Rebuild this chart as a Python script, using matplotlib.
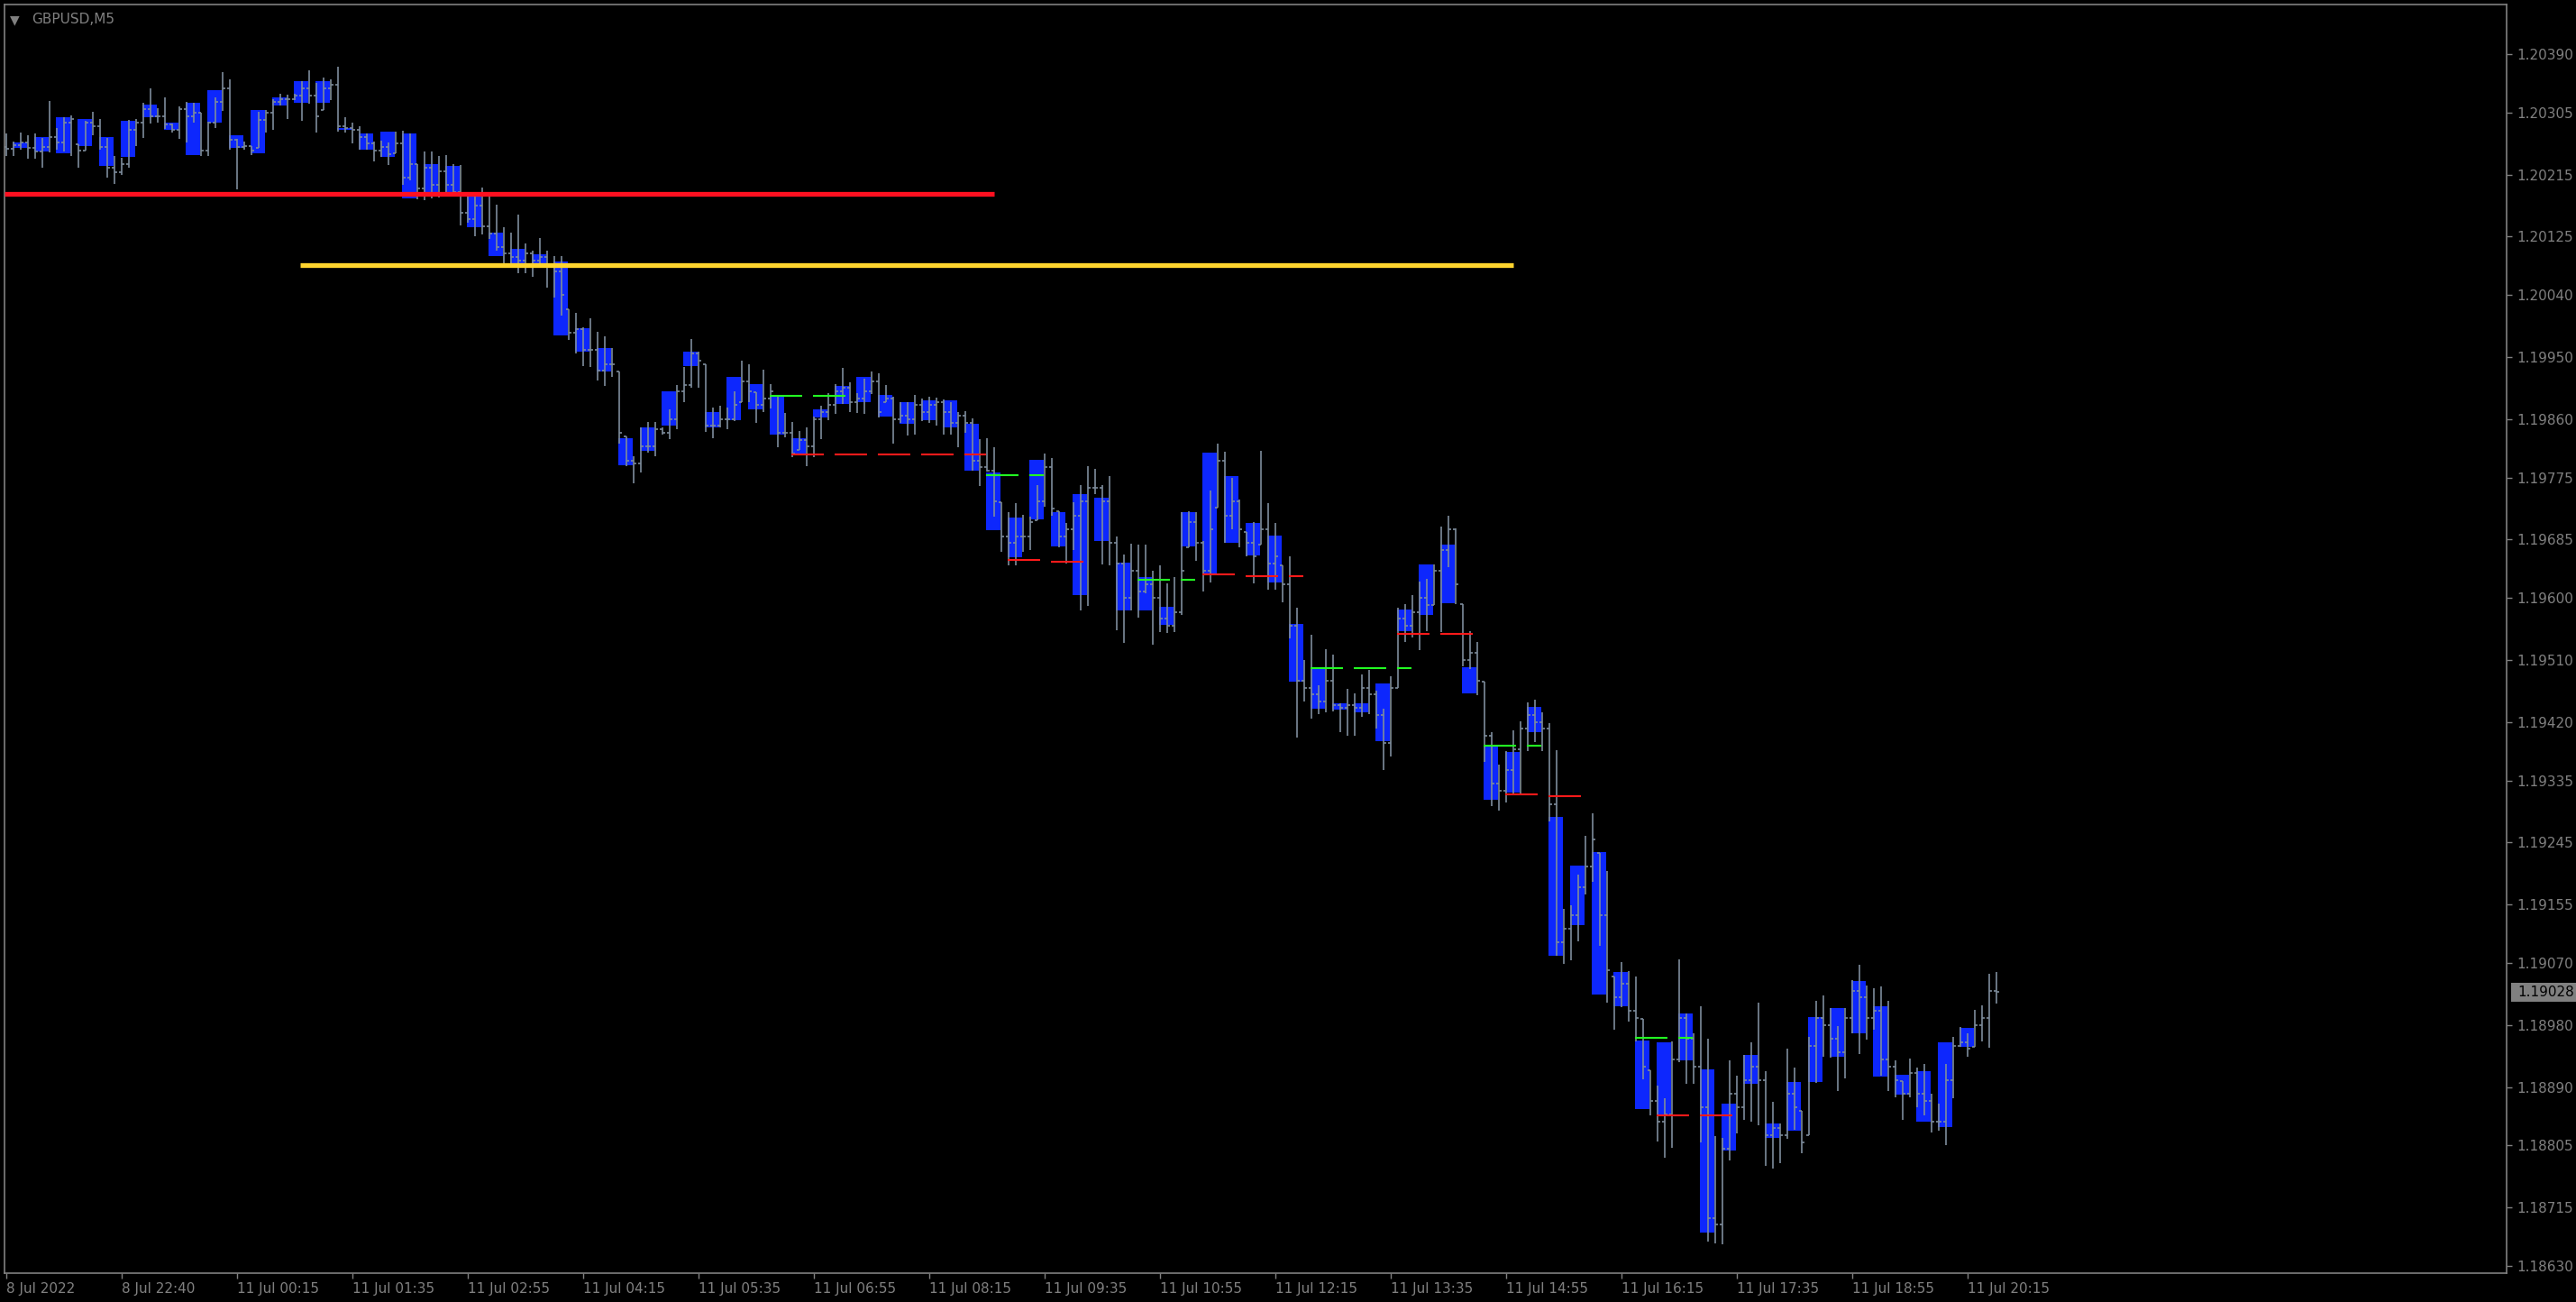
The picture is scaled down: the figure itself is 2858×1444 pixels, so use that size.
import numpy as np
import matplotlib
matplotlib.use("Agg")
import matplotlib.pyplot as plt
from matplotlib.collections import LineCollection
from matplotlib.patches import Rectangle

plt.rcParams["font.family"] = ["DejaVu Sans"]
plt.rcParams["lines.scale_dashes"] = False

# GBPUSD M5 bars, bar 0 = 8 Jul 21:20
first_open = 1.20255
highs = [
    1.20275, 1.20263, 1.20276, 1.20272, 1.20275, 1.20268, 1.20322, 1.20283, 1.20298, 1.20301,
    1.20259, 1.20293, 1.20306, 1.20296, 1.20268, 1.20242, 1.20239, 1.20294, 1.20296, 1.20319,
    1.20340, 1.20311, 1.20327, 1.20289, 1.20314, 1.20321, 1.20319, 1.20305, 1.20292, 1.20327,
    1.20364, 1.20353, 1.20267, 1.20263, 1.20256, 1.20306, 1.20309, 1.20325, 1.20332, 1.20331,
    1.20332, 1.20351, 1.20366, 1.20348, 1.20356, 1.20353, 1.20372, 1.20298, 1.20290, 1.20285,
    1.20275, 1.20263, 1.20264, 1.20262, 1.20277, 1.20279, 1.20275, 1.20230, 1.20249, 1.20249,
    1.20242, 1.20243, 1.20230, 1.20229, 1.20184, 1.20183, 1.20196, 1.20183, 1.20171, 1.20139,
    1.20131, 1.20157, 1.20115, 1.20105, 1.20123, 1.20105, 1.20097, 1.20097, 1.20019, 1.20014,
    1.19993, 1.20006, 1.19987, 1.19980, 1.19963, 1.19929, 1.19835, 1.19806, 1.19848, 1.19856,
    1.19856, 1.19848, 1.19874, 1.19910, 1.19936, 1.19976, 1.19958, 1.19940, 1.19877, 1.19879,
    1.19877, 1.19900, 1.19945, 1.19940, 1.19899, 1.19932, 1.19911, 1.19894, 1.19869, 1.19856,
    1.19843, 1.19848, 1.19864, 1.19879, 1.19897, 1.19911, 1.19934, 1.19913, 1.19897, 1.19919,
    1.19929, 1.19927, 1.19910, 1.19892, 1.19885, 1.19885, 1.19895, 1.19890, 1.19892, 1.19891,
    1.19888, 1.19885, 1.19870, 1.19871, 1.19861, 1.19831, 1.19832, 1.19819, 1.19739, 1.19725,
    1.19738, 1.19721, 1.19718, 1.19764, 1.19810, 1.19803, 1.19726, 1.19709, 1.19739, 1.19764,
    1.19791, 1.19788, 1.19764, 1.19777, 1.19690, 1.19663, 1.19679, 1.19678, 1.19678, 1.19640,
    1.19648, 1.19621, 1.19631, 1.19725, 1.19726, 1.19725, 1.19683, 1.19756, 1.19824, 1.19812,
    1.19775, 1.19743, 1.19696, 1.19710, 1.19814, 1.19738, 1.19709, 1.19648, 1.19660, 1.19586,
    1.19510, 1.19547, 1.19473, 1.19526, 1.19518, 1.19447, 1.19468, 1.19462, 1.19489, 1.19495,
    1.19465, 1.19439, 1.19486, 1.19586, 1.19591, 1.19604, 1.19624, 1.19628, 1.19649, 1.19704,
    1.19720, 1.19701, 1.19591, 1.19552, 1.19536, 1.19479, 1.19405, 1.19358, 1.19378, 1.19408,
    1.19421, 1.19448, 1.19452, 1.19434, 1.19418, 1.19379, 1.19149, 1.19154, 1.19198, 1.19255,
    1.19287, 1.19230, 1.19203, 1.19050, 1.19072, 1.19058, 1.19050, 1.18989, 1.18914, 1.18892,
    1.18874, 1.18956, 1.19075, 1.18997, 1.18968, 1.19007, 1.18960, 1.18819, 1.18816, 1.18929,
    1.18906, 1.18936, 1.18955, 1.19012, 1.18913, 1.18868, 1.18837, 1.18945, 1.18918, 1.18855,
    1.18963, 1.19015, 1.19023, 1.19005, 1.18979, 1.19005, 1.19045, 1.19067, 1.19037, 1.19033,
    1.19036, 1.19015, 1.18929, 1.18898, 1.18931, 1.18918, 1.18923, 1.18880, 1.18866, 1.18923,
    1.18963, 1.18977, 1.18968, 1.19002, 1.19008, 1.19054, 1.19057,
]
lows = [
    1.20242, 1.20242, 1.20251, 1.20238, 1.20238, 1.20225, 1.20247, 1.20251, 1.20249, 1.20242,
    1.20225, 1.20250, 1.20272, 1.20251, 1.20211, 1.20201, 1.20215, 1.20225, 1.20256, 1.20268,
    1.20289, 1.20290, 1.20281, 1.20276, 1.20267, 1.20262, 1.20290, 1.20242, 1.20242, 1.20283,
    1.20307, 1.20251, 1.20194, 1.20251, 1.20243, 1.20254, 1.20276, 1.20280, 1.20315, 1.20296,
    1.20323, 1.20293, 1.20318, 1.20276, 1.20309, 1.20323, 1.20277, 1.20276, 1.20260, 1.20251,
    1.20251, 1.20234, 1.20241, 1.20229, 1.20246, 1.20200, 1.20207, 1.20179, 1.20178, 1.20180,
    1.20182, 1.20188, 1.20186, 1.20141, 1.20145, 1.20125, 1.20128, 1.20121, 1.20105, 1.20086,
    1.20086, 1.20072, 1.20072, 1.20067, 1.20080, 1.20051, 1.20036, 1.20010, 1.19975, 1.19955,
    1.19937, 1.19936, 1.19916, 1.19908, 1.19921, 1.19824, 1.19792, 1.19767, 1.19782, 1.19811,
    1.19806, 1.19837, 1.19831, 1.19845, 1.19884, 1.19906, 1.19905, 1.19841, 1.19832, 1.19848,
    1.19845, 1.19857, 1.19884, 1.19885, 1.19854, 1.19870, 1.19875, 1.19819, 1.19833, 1.19805,
    1.19815, 1.19792, 1.19805, 1.19831, 1.19858, 1.19867, 1.19882, 1.19870, 1.19869, 1.19867,
    1.19896, 1.19862, 1.19885, 1.19824, 1.19854, 1.19836, 1.19837, 1.19857, 1.19854, 1.19850,
    1.19837, 1.19837, 1.19819, 1.19840, 1.19785, 1.19763, 1.19784, 1.19718, 1.19667, 1.19648,
    1.19648, 1.19667, 1.19670, 1.19713, 1.19732, 1.19719, 1.19674, 1.19650, 1.19670, 1.19582,
    1.19589, 1.19751, 1.19649, 1.19648, 1.19553, 1.19535, 1.19582, 1.19572, 1.19607, 1.19532,
    1.19551, 1.19549, 1.19551, 1.19575, 1.19674, 1.19654, 1.19610, 1.19623, 1.19731, 1.19680,
    1.19700, 1.19674, 1.19661, 1.19621, 1.19678, 1.19612, 1.19612, 1.19594, 1.19541, 1.19397,
    1.19450, 1.19425, 1.19431, 1.19434, 1.19435, 1.19405, 1.19400, 1.19400, 1.19428, 1.19431,
    1.19410, 1.19350, 1.19370, 1.19469, 1.19536, 1.19543, 1.19525, 1.19552, 1.19590, 1.19551,
    1.19645, 1.19591, 1.19501, 1.19497, 1.19459, 1.19362, 1.19298, 1.19291, 1.19303, 1.19316,
    1.19316, 1.19378, 1.19391, 1.19378, 1.19276, 1.19081, 1.19069, 1.19074, 1.19101, 1.19170,
    1.19188, 1.19095, 1.19012, 1.18973, 1.19006, 1.18985, 1.18956, 1.18901, 1.18849, 1.18811,
    1.18787, 1.18802, 1.18926, 1.18895, 1.18895, 1.18810, 1.18665, 1.18663, 1.18661, 1.18783,
    1.18823, 1.18842, 1.18840, 1.18834, 1.18775, 1.18771, 1.18780, 1.18815, 1.18828, 1.18794,
    1.18820, 1.18896, 1.18934, 1.18933, 1.18884, 1.18902, 1.18968, 1.18938, 1.18959, 1.18973,
    1.18907, 1.18884, 1.18875, 1.18842, 1.18875, 1.18860, 1.18849, 1.18824, 1.18826, 1.18806,
    1.18874, 1.18948, 1.18934, 1.18948, 1.18956, 1.18947, 1.19011,
]
closes = [
    1.20252, 1.20258, 1.20262, 1.20254, 1.20249, 1.20255, 1.20270, 1.20262, 1.20290, 1.20296,
    1.20250, 1.20290, 1.20285, 1.20255, 1.20225, 1.20218, 1.20230, 1.20280, 1.20290, 1.20310,
    1.20300, 1.20300, 1.20288, 1.20280, 1.20310, 1.20300, 1.20305, 1.20250, 1.20290, 1.20320,
    1.20340, 1.20265, 1.20255, 1.20256, 1.20250, 1.20295, 1.20305, 1.20320, 1.20325, 1.20325,
    1.20330, 1.20340, 1.20330, 1.20300, 1.20340, 1.20345, 1.20285, 1.20283, 1.20280, 1.20270,
    1.20260, 1.20250, 1.20255, 1.20245, 1.20260, 1.20210, 1.20230, 1.20195, 1.20225, 1.20200,
    1.20220, 1.20200, 1.20190, 1.20160, 1.20150, 1.20170, 1.20140, 1.20130, 1.20110, 1.20100,
    1.20095, 1.20090, 1.20100, 1.20090, 1.20095, 1.20085, 1.20075, 1.20040, 1.19985, 1.19990,
    1.19960, 1.19960, 1.19930, 1.19940, 1.19940, 1.19840, 1.19800, 1.19795, 1.19820, 1.19820,
    1.19845, 1.19840, 1.19860, 1.19900, 1.19910, 1.19955, 1.19945, 1.19850, 1.19850, 1.19860,
    1.19860, 1.19880, 1.19915, 1.19900, 1.19880, 1.19890, 1.19900, 1.19840, 1.19840, 1.19810,
    1.19830, 1.19820, 1.19860, 1.19870, 1.19880, 1.19900, 1.19905, 1.19885, 1.19890, 1.19900,
    1.19915, 1.19870, 1.19890, 1.19860, 1.19865, 1.19860, 1.19880, 1.19870, 1.19880, 1.19885,
    1.19870, 1.19855, 1.19865, 1.19855, 1.19800, 1.19790, 1.19785, 1.19740, 1.19690, 1.19680,
    1.19690, 1.19690, 1.19710, 1.19740, 1.19790, 1.19730, 1.19690, 1.19700, 1.19720, 1.19740,
    1.19760, 1.19760, 1.19740, 1.19680, 1.19650, 1.19600, 1.19640, 1.19610, 1.19620, 1.19600,
    1.19570, 1.19560, 1.19580, 1.19640, 1.19710, 1.19680, 1.19640, 1.19700, 1.19800, 1.19720,
    1.19740, 1.19700, 1.19680, 1.19660, 1.19700, 1.19650, 1.19660, 1.19620, 1.19560, 1.19480,
    1.19470, 1.19460, 1.19450, 1.19480, 1.19445, 1.19440, 1.19445, 1.19440, 1.19470, 1.19460,
    1.19430, 1.19390, 1.19470, 1.19570, 1.19560, 1.19580, 1.19600, 1.19590, 1.19640, 1.19670,
    1.19700, 1.19620, 1.19510, 1.19520, 1.19480, 1.19400, 1.19330, 1.19320, 1.19350, 1.19380,
    1.19410, 1.19430, 1.19420, 1.19410, 1.19300, 1.19100, 1.19120, 1.19140, 1.19180, 1.19210,
    1.19250, 1.19140, 1.19060, 1.19020, 1.19040, 1.19000, 1.18990, 1.18920, 1.18870, 1.18840,
    1.18850, 1.18930, 1.18990, 1.18960, 1.18920, 1.18860, 1.18700, 1.18690, 1.18800, 1.18880,
    1.18860, 1.18900, 1.18920, 1.18900, 1.18820, 1.18830, 1.18820, 1.18880, 1.18860, 1.18810,
    1.18950, 1.18990, 1.18980, 1.18960, 1.18940, 1.18990, 1.19030, 1.19020, 1.18990, 1.19000,
    1.18930, 1.18920, 1.18900, 1.18880, 1.18910, 1.18880, 1.18870, 1.18840, 1.18840, 1.18900,
    1.18950, 1.18955, 1.18945, 1.18980, 1.18990, 1.19030, 1.19028,
]

# blue blocks, one per 3-bar group starting at bar 1
box_high = [
    1.20262, 1.20270, 1.20298, 1.20296, 1.20270, 1.20293, 1.20317, 1.20290, 1.20319, 1.20338,
    1.20272, 1.20309, 1.20327, 1.20351, 1.20351, 1.20283, 1.20275, 1.20277, 1.20275, 1.20230,
    1.20228, 1.20183, 1.20131, 1.20107, 1.20099, 1.20089, 1.19992, 1.19963, 1.19832, 1.19848,
    1.19900, 1.19958, 1.19870, 1.19921, 1.19911, 1.19894, 1.19832, 1.19874, 1.19908, 1.19921,
    1.19895, 1.19885, 1.19887, 1.19887, 1.19853, 1.19782, 1.19717, 1.19801, 1.19725, 1.19751,
    1.19746, 1.19651, 1.19631, 1.19587, 1.19725, 1.19811, 1.19777, 1.19709, 1.19691, 1.19562,
    1.19498, 1.19447, 1.19447, 1.19476, 1.19583, 1.19649, 1.19678, 1.19500, 1.19386, 1.19377,
    1.19442, 1.19282, 1.19211, 1.19231, 1.19057, 1.18957, 1.18955, 1.18997, 1.18915, 1.18866,
    1.18936, 1.18837, 1.18897, 1.18992, 1.19005, 1.19044, 1.19007, 1.18908, 1.18913, 1.18955,
    1.18976, 1.18990,
]
box_low = [
    1.20254, 1.20249, 1.20246, 1.20256, 1.20228, 1.20241, 1.20298, 1.20280, 1.20243, 1.20290,
    1.20254, 1.20246, 1.20315, 1.20319, 1.20319, 1.20280, 1.20251, 1.20241, 1.20180, 1.20188,
    1.20190, 1.20139, 1.20097, 1.20086, 1.20086, 1.19981, 1.19958, 1.19929, 1.19793, 1.19814,
    1.19850, 1.19937, 1.19848, 1.19858, 1.19874, 1.19837, 1.19809, 1.19862, 1.19882, 1.19885,
    1.19864, 1.19853, 1.19858, 1.19848, 1.19785, 1.19699, 1.19659, 1.19714, 1.19675, 1.19604,
    1.19683, 1.19582, 1.19582, 1.19561, 1.19675, 1.19634, 1.19680, 1.19662, 1.19623, 1.19479,
    1.19439, 1.19438, 1.19434, 1.19392, 1.19552, 1.19576, 1.19592, 1.19462, 1.19307, 1.19318,
    1.19405, 1.19081, 1.19125, 1.19024, 1.19007, 1.18858, 1.18849, 1.18929, 1.18678, 1.18798,
    1.18894, 1.18816, 1.18827, 1.18897, 1.18934, 1.18968, 1.18905, 1.18879, 1.18840, 1.18832,
    1.18948, 1.18990,
]

# support / resistance levels (price, from bar, to bar)
red_level = (1.20187, -0.25, 137.0)
yellow_level = (1.20083, 40.75, 209.0)
dash_price = [1.19894, 1.19808, 1.19779, 1.19656, 1.19653, 1.19627, 1.19635, 1.19632,
              1.19498, 1.19548, 1.19386, 1.19315, 1.19312, 1.18962, 1.18849]
dash_start = [105.9, 108.9, 135.9, 138.9, 144.9, 156.9, 165.9, 171.9,
              180.9, 192.9, 204.9, 207.9, 213.9, 225.9, 228.9]
dash_end = [116.4, 135.9, 143.9, 143.4, 149.4, 164.9, 170.4, 179.9,
            194.9, 203.4, 212.9, 212.4, 218.4, 233.9, 239.4]
dash_kind = ["up", "down", "up", "down", "down", "up", "down", "down",
             "up", "down", "up", "down", "down", "up", "down"]

ytick_vals = [1.20390, 1.20305, 1.20215, 1.20125, 1.20040, 1.19950, 1.19860, 1.19775,
              1.19685, 1.19600, 1.19510, 1.19420, 1.19335, 1.19245, 1.19155, 1.19070,
              1.18980, 1.18890, 1.18805, 1.18715, 1.18630]
xtick_labels = ["8 Jul 2022", "8 Jul 22:40", "11 Jul 00:15", "11 Jul 01:35", "11 Jul 02:55",
                "11 Jul 04:15", "11 Jul 05:35", "11 Jul 06:55", "11 Jul 08:15", "11 Jul 09:35",
                "11 Jul 10:55", "11 Jul 12:15", "11 Jul 13:35", "11 Jul 14:55", "11 Jul 16:15",
                "11 Jul 17:35", "11 Jul 18:55", "11 Jul 20:15"]

GRAY = "#808080"
BAR = "#7d8c9b"
BLUE = "#0d27fd"

n = len(highs)
assert len(lows) == n and len(closes) == n
idx = np.arange(n)
hi = np.array(highs)
lo = np.array(lows)
cl = np.array(closes)
op = np.clip(np.r_[first_open, cl[:-1]], lo, hi)

W, H = 2858, 1444
fig = plt.figure(figsize=(W / 100, H / 100), dpi=100, facecolor="black")
ax = fig.add_axes([5 / W, 1 - 1412 / H, 2776 / W, 1407 / H], facecolor="black")

# blue blocks
bx = np.arange(1, n, 3)[:len(box_high)]
bh = np.array(box_high) - np.array(box_low)
ax.bar(bx - 0.125, bh, bottom=box_low, width=2.0, align="edge", color=BLUE,
       linewidth=0, zorder=1)

# OHLC bars
wicks = [[(i, l), (i, h)] for i, l, h in zip(idx, lo, hi)]
oticks = [[(i - 0.4, o), (i, o)] for i, o in zip(idx, op)]
cticks = [[(i, c), (i + 0.4, c)] for i, c in zip(idx, cl)]
for segs in (wicks, oticks, cticks):
    ax.add_collection(LineCollection(segs, colors=BAR, linewidths=1.2, zorder=2))

# levels
for p, s, e, k in zip(dash_price, dash_start, dash_end, dash_kind):
    ax.plot([s, e], [p, p], color="#22ff22" if k == "up" else "#ff1a1a", lw=1.5,
            dashes=(25.9, 8.64), dash_capstyle="butt", zorder=4)
p, s, e = red_level
ax.plot([s, e], [p, p], color="#ff1020", lw=3.8, solid_capstyle="butt", zorder=5)
p, s, e = yellow_level
ax.plot([s, e], [p, p], color="#ffd42e", lw=3.8, solid_capstyle="butt", zorder=5)

ax.set_xlim(-0.25, 346.75)
ax.set_ylim(1.186196, 1.204620)

for sp in ax.spines.values():
    sp.set_color(GRAY)
    sp.set_linewidth(1.2)

ax.yaxis.tick_right()
ax.set_yticks(ytick_vals)
ax.set_yticklabels([f"{v:.5f}" for v in ytick_vals])
ax.set_xticks(np.arange(len(xtick_labels)) * 16)
ax.set_xticklabels(xtick_labels)
for t in ax.get_xticklabels():
    t.set_horizontalalignment("left")
ax.tick_params(axis="y", colors=GRAY, length=4.3, width=1, pad=4, labelsize=11)
ax.tick_params(axis="x", colors=GRAY, length=4.3, width=1, pad=3, labelsize=11)

# title
fig.text(11 / W, 1 - 22 / H, "\u25bc", color=GRAY, fontsize=10, va="center", ha="left")
fig.text(35 / W, 1 - 22 / H, "GBPUSD,M5", color=GRAY, fontsize=11, va="center", ha="left")

# current price tag
last = closes[-1]
tr = ax.get_yaxis_transform()
ax.add_patch(Rectangle((1.0018, last - 0.000137), 0.027, 0.000275, transform=tr,
                       clip_on=False, facecolor=GRAY, edgecolor="none", zorder=6))
ax.text(1.0043, last, f"{last:.5f}", transform=tr, color="black", fontsize=11,
        va="center", ha="left", zorder=7, clip_on=False)

fig.savefig("out.png", dpi=100, facecolor="black")
